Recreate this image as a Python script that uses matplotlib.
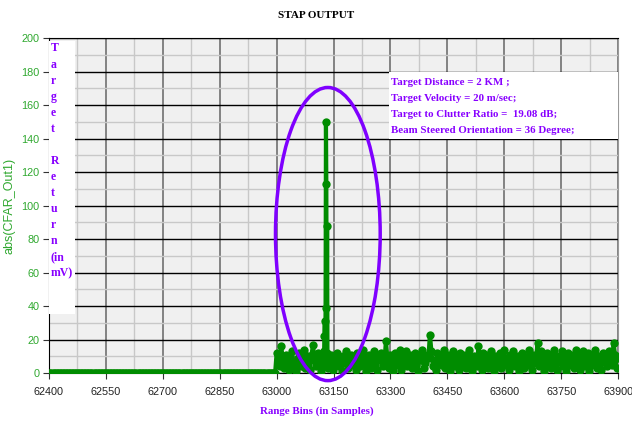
import matplotlib.pyplot as plt
import numpy as np
from matplotlib.patches import Ellipse, Rectangle
from matplotlib.ticker import MultipleLocator

# Fuente por defecto para numeros y etiqueta del eje y
plt.rcParams['font.family'] = ['Liberation Sans', 'DejaVu Sans']

# Datos de la salida STAP
# Tramo sin senal (todo en cero)
tramo_cero_x = np.arange(62400, 63000, 4)
tramo_cero_y = [0] * len(tramo_cero_x)

# Tramo con clutter (una muestra cada 4 bins)
ruido_x = np.arange(63000, 63904, 4)
ruido_y = [12, 8, 4, 16, 9, 3, 11, 6, 2, 10,
           13, 5, 7, 1, 9, 12, 4, 8, 14, 3,
           6, 10, 2, 11, 17, 7, 4, 12, 9, 1,
           8, 13, 5, 10, 3, 7, 11, 2, 9, 6,
           12, 4, 8, 1, 10, 6, 13, 3, 7, 11,
           5, 9, 2, 12, 8, 4, 10, 14, 6, 1,
           9, 11, 3, 7, 13, 5, 2, 10, 8, 12,
           4, 6, 19, 9, 3, 11, 7, 1, 12, 5,
           8, 14, 2, 10, 6, 13, 4, 9, 11, 3,
           7, 12, 5, 1, 10, 8, 14, 3, 6, 11,
           9, 23, 13, 4, 8, 2, 12, 6, 10, 5,
           14, 3, 9, 11, 1, 7, 13, 4, 10, 6,
           2, 12, 8, 5, 11, 3, 9, 14, 6, 1,
           10, 7, 4, 16, 8, 2, 12, 5, 11, 3,
           9, 13, 6, 1, 10, 4, 8, 12, 3, 7,
           14, 5, 9, 2, 11, 6, 13, 4, 8, 10,
           1, 7, 12, 3, 9, 5, 14, 8, 2, 11,
           6, 10, 18, 4, 13, 7, 1, 9, 12, 5,
           8, 3, 11, 14, 6, 2, 10, 7, 13, 4,
           9, 1, 12, 5, 8, 11, 3, 14, 6, 10,
           2, 7, 13, 4, 9, 12, 1, 8, 5, 11,
           14, 3, 10, 6, 2, 12, 7, 9, 4, 13,
           8, 5, 18, 11, 3, 9]

# Retorno del blanco (pico)
pico_x = [63125, 63126, 63127, 63129, 63130, 63131, 63133, 63134]
pico_y = [10, 22, 31, 39, 150, 113, 88, 12]

# Etiquetas de texto
titulo = 'STAP OUTPUT'
etiqueta_x = 'Range Bins (in Samples)'
etiqueta_y = 'abs(CFAR_Out1)'
texto_lateral = ['T', 'a', 'r', 'g', 'e', 't', '', 'R', 'e', 't', 'u',
                 'r', 'n', '(in', 'mV)']
texto_info = ['Target Distance = 2 KM ;',
              'Target Velocity = 20 m/sec;',
              'Target to Clutter Ratio =  19.08 dB;',
              'Beam Steered Orientation = 36 Degree;']

# Colores
verde = '#008c00'
verde_ticks = '#2fa82f'
morado = '#8800ff'

# Unimos todos los tramos y ordenamos por bin
x = np.concatenate([tramo_cero_x, ruido_x, pico_x])
y = np.concatenate([tramo_cero_y, ruido_y, pico_y]).astype(float)
orden = np.argsort(x, kind='stable')
x = x[orden]
y = y[orden]

fig = plt.figure(figsize=(6.32, 4.23), dpi=100)
ax = fig.add_axes([0.0775, 0.118, 0.9005, 0.792])
ax.set_facecolor('#f0f0f0')

# Linea gruesa con marcadores
ax.plot(x, y, color=verde, lw=3, marker='o', markersize=6,
        markeredgewidth=0, zorder=3)

ax.set_xlim(62400, 63900)
ax.set_ylim(0, 200)
ax.xaxis.set_major_locator(MultipleLocator(150))
ax.xaxis.set_minor_locator(MultipleLocator(75))
ax.yaxis.set_major_locator(MultipleLocator(20))
ax.yaxis.set_minor_locator(MultipleLocator(10))

# Rejilla: menor gris claro, mayor vertical gris, mayor horizontal negra
ax.set_axisbelow(True)
ax.grid(which='minor', color='#c8c8c8', lw=1.0)
ax.xaxis.grid(which='major', color='#7a7a7a', lw=1.3)
ax.yaxis.grid(which='major', color='black', lw=1.0)

ax.tick_params(which='minor', length=0)
ax.tick_params(axis='x', which='major', length=4, color='#333333',
               labelcolor='#222222', labelsize=7.8, pad=6)
ax.tick_params(axis='y', which='major', length=4, color='#333333',
               labelcolor=verde_ticks, labelsize=7.8, pad=3)

for lado in ['left', 'bottom', 'top']:
    ax.spines[lado].set_color('black')
ax.spines['right'].set_color('#999999')

# Titulo y etiquetas de ejes
fig.text(0.5, 0.963, titulo, ha='center', va='center',
         family='Liberation Serif', weight='bold', fontsize=8)
fig.text(0.502, 0.028, etiqueta_x, ha='center', va='center',
         family='Liberation Serif', weight='bold', fontsize=7.8,
         color=morado)
ax.set_ylabel(etiqueta_y, color=verde_ticks, fontsize=9, labelpad=4)

# Caja blanca con el texto vertical (una letra por renglon)
ax.add_patch(Rectangle((62401, 35), 67, 163.5, facecolor='white',
                       edgecolor='none', zorder=4))
for i, letra in enumerate(texto_lateral):
    ax.text(62404, 193.8 - 9.6 * i, letra, ha='left', va='center',
            family='Liberation Serif', weight='bold', fontsize=8.5,
            color=morado, zorder=5)

# Caja blanca con los datos del blanco
ax.add_patch(Rectangle((63297, 140), 602, 40, facecolor='white',
                       edgecolor='none', zorder=4))
for i, renglon in enumerate(texto_info):
    ax.text(63302, 173.6 - 9.5 * i, renglon, ha='left', va='center',
            family='Liberation Serif', weight='bold', fontsize=7.8,
            color=morado, zorder=5)

# Elipse marcando el blanco
ax.add_patch(Ellipse((63135, 83), 276, 175, fill=False,
                     edgecolor='#7f00ff', lw=2.5, clip_on=False, zorder=6))

fig.savefig('out.png', dpi=100)
